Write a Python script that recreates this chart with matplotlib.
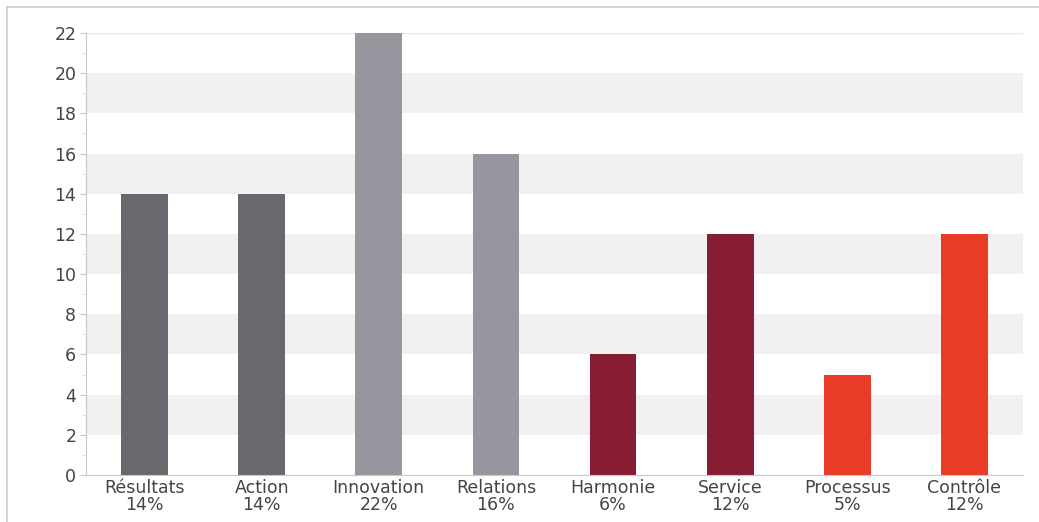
import matplotlib.pyplot as plt
from matplotlib.lines import Line2D

categories = ['Résultats', 'Action', 'Innovation', 'Relations',
              'Harmonie', 'Service', 'Processus', 'Contrôle']
values = [14, 14, 22, 16, 6, 12, 5, 12]
percents = ['14%', '14%', '22%', '16%', '6%', '12%', '5%', '12%']
colors = ['#6a686e', '#6a686e', '#97959e', '#97959e',
          '#861d33', '#861d33', '#e83c26', '#e83c26']

fig = plt.figure(figsize=(10.39, 5.22), dpi=100)
ax = fig.add_axes([86/1039, 1-475/522, (1023-86)/1039, (475-33)/522])

# alternating bands
for lo in range(2, 22, 4):
    ax.axhspan(lo, lo+2, color='#f1f1f1', lw=0, zorder=0)
ax.axhline(22, color='#e6e6e6', lw=1, zorder=0)

x = list(range(len(categories)))
ax.bar(x, values, width=0.4, color=colors, zorder=2)

ax.set_xlim(-0.5, len(categories)-0.5)
ax.set_ylim(0, 22)
ax.set_yticks(range(0, 23, 2))
ax.set_yticks(range(1, 22, 2), minor=True)
ax.set_xticks(x)
ax.set_xticklabels([c+'\n'+p for c, p in zip(categories, percents)],
                   linespacing=0.95)

for s in ['top', 'right']:
    ax.spines[s].set_visible(False)
for s in ['left', 'bottom']:
    ax.spines[s].set_color('#c8c8c8')
ax.tick_params(axis='y', which='major', length=4, color='#c8c8c8',
               labelsize=12.5, labelcolor='#444444', pad=3)
ax.tick_params(axis='y', which='minor', length=3, color='#d8d8d8')
ax.tick_params(axis='x', length=0, labelsize=12.5, labelcolor='#444444', pad=3)

# outer frame
fig.add_artist(Line2D([7/1039, 1], [1-7/522, 1-7/522], color='#cccccc', lw=1.2))
fig.add_artist(Line2D([7/1039, 7/1039], [0, 1-7/522], color='#cccccc', lw=1.2))

plt.savefig('out.png', dpi=100)
